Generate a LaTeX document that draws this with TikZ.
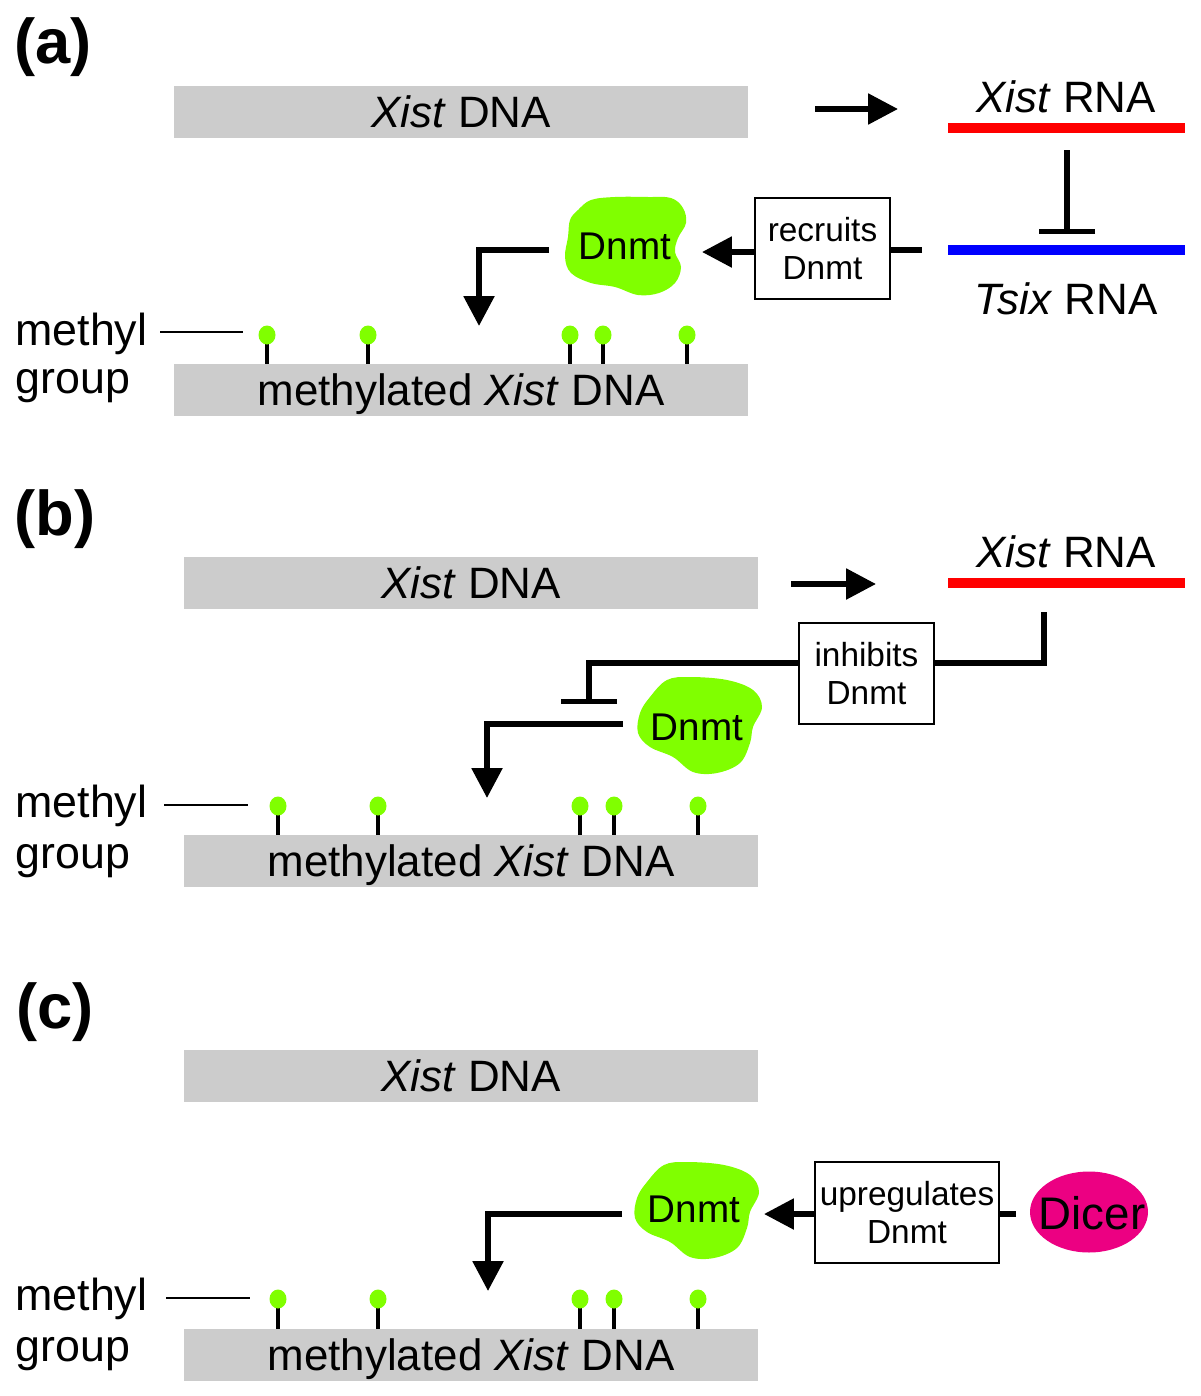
\documentclass[tikz,border=0pt]{standalone}
\usepackage{fontspec}
\setmainfont{Liberation Sans}
\usetikzlibrary{arrows.meta,shapes.geometric}
\definecolor{barGray}{RGB}{204,204,204}
\definecolor{dnmtGreen}{RGB}{128,255,0}
\definecolor{dicerPink}{RGB}{236,0,130}
\definecolor{rnaRed}{RGB}{255,0,0}
\definecolor{rnaBlue}{RGB}{0,0,255}
\newcommand\blobA[2]{\fill[dnmtGreen, shift={(#1,#2)}] plot[smooth cycle, tension=0.6] coordinates {(-49,-36) (-36,-46) (-12,-49) (21,-49) (44,-48) (56,-38) (59,-23) (51,-8) (48,6) (54,21) (48,37) (32,47) (11,49) (-12,41) (-36,37) (-56,27) (-62,11) (-59,-9) (-57,-26)};}
\newcommand\blobB[2]{\fill[dnmtGreen, shift={(#1,#2)}] plot[smooth cycle, tension=0.6] coordinates {(-50,-29) (-33,-46) (-10,-49) (27,-46) (53,-36) (62,-19) (53,1) (50,17) (40,37) (17,47) (-7,46) (-27,31) (-50,21) (-62,7) (-60,-13)};}
\tikzset{
  bar/.style={fill=barGray, minimum width=11.48cm, minimum height=1.04cm, inner sep=0pt,
    font=\fontsize{25}{30}\selectfont, text height=18pt, text depth=0pt},
  lbl/.style={font=\fontsize{25}{30}\selectfont, text height=18pt, text depth=0pt, inner sep=0pt},
  meth/.style={font=\fontsize{25.5}{30}\selectfont, inner sep=0pt, anchor=base west},
  panel/.style={font=\bfseries\fontsize{36}{40}\selectfont, inner sep=0pt},
  boxlbl/.style={draw, line width=1.1pt, font=\fontsize{19}{21.5}\selectfont, align=center,
    inner sep=0pt, minimum width=2.7cm, minimum height=2.02cm},
  blobtxt/.style={font=\fontsize{22}{26}\selectfont, text height=15.8pt, text depth=0pt, inner sep=0pt},
  conn/.style={line width=2.9pt},
  arr/.style={line width=3.2pt, -{Triangle[length=17pt,width=17pt]}},
  inh/.style={line width=2.9pt, -{Bar[width=32pt]}},
  rna/.style={line width=5.8pt},
  mline/.style={line width=1.2pt},
  stem/.style={line width=2pt},
}
\newcommand\lollis[2]{%
  \foreach \lx in {#1} {
    \draw[stem] (\lx,#2+8) -- (\lx,#2+30);
    \fill[dnmtGreen] (\lx,#2) ellipse [x radius=0.17cm, y radius=0.19cm];
  }}
\begin{document}
\begin{tikzpicture}[x=0.02cm, y=-0.02cm]
\useasboundingbox (0,0) rectangle (1200,1396);

% ---------------- panel (a)
\node[panel] (la) at (53,47) {(a)};
\node[bar] (dnaA) at (461,112) {\textit{Xist} DNA};
\coordinate (aA1) at (815,109); \coordinate (aA2) at (898,109);
\draw[arr] (aA1) -- (aA2);
\node[lbl] (xrnaA) at (1066,97) {\textit{Xist} RNA};
\coordinate (redAL) at (948,128); \coordinate (redAR) at (1185,128);
\draw[rna, rnaRed] (redAL) -- (redAR);
\coordinate (blueAL) at (948,250); \coordinate (blueAR) at (1185,250);
\draw[rna, rnaBlue] (blueAL) -- (blueAR);
\node[lbl] (tsixA) at (1066,299) {\textit{Tsix} RNA};
\coordinate (inhA1) at (1067,150); \coordinate (inhA2) at (1067,234);
\draw[inh] (inhA1) -- (inhA2);
\node[boxlbl] (recA) at (822.5,248.5) {recruits\\Dnmt};
\coordinate (tsA) at (922,250);
\draw[conn] (tsA) -- (tsA -| recA.east);
\blobA{627}{246}
\node[blobtxt] (dnmtA) at (625,246) {Dnmt};
\coordinate (recTipA) at (702,252);
\draw[arr] (recA.west |- recTipA) -- (recTipA);
\coordinate (dA0) at (549,250); \coordinate (dA1) at (479,326);
\draw[arr] (dA0) -| (dA1);
\node[meth] (methA) at (15,345) {methyl};
\node[meth] (grpA) at (15,393) {group};
\coordinate (mlA0) at (160,332); \coordinate (mlA1) at (243,332);
\draw[mline] (mlA0) -- (mlA1);
\lollis{267,368,570,603,687}{335}
\node[bar] (mdnaA) at (461,390) {methylated \textit{Xist} DNA};

% ---------------- panel (b)
\node[panel] (lb) at (55,519) {(b)};
\node[bar] (dnaB) at (471,583) {\textit{Xist} DNA};
\coordinate (aB1) at (791,584); \coordinate (aB2) at (876,584);
\draw[arr] (aB1) -- (aB2);
\node[lbl] (xrnaB) at (1066,552) {\textit{Xist} RNA};
\coordinate (redBL) at (948,583); \coordinate (redBR) at (1185,583);
\draw[rna, rnaRed] (redBL) -- (redBR);
\node[boxlbl] (inhB) at (866.5,673.5) {inhibits\\Dnmt};
\coordinate (rB) at (1044,612); \coordinate (lineB) at (934,663);
\draw[conn] (rB) |- (inhB.east |- lineB);
\coordinate (inhBend) at (589,704);
\draw[inh] (inhB.west |- lineB) -| (inhBend);
\blobB{700}{726}
\node[blobtxt] (dnmtB) at (697,727) {Dnmt};
\coordinate (dB0) at (623,724); \coordinate (dB1) at (487,798);
\draw[arr] (dB0) -| (dB1);
\node[meth] (methB) at (15,817) {methyl};
\node[meth] (grpB) at (15,868) {group};
\coordinate (mlB0) at (164,805); \coordinate (mlB1) at (248,805);
\draw[mline] (mlB0) -- (mlB1);
\lollis{278,378,580,614,698}{806}
\node[bar] (mdnaB) at (471,861) {methylated \textit{Xist} DNA};

% ---------------- panel (c)
\node[panel] (lc) at (55,1012) {(c)};
\node[bar] (dnaC) at (471,1076) {\textit{Xist} DNA};
\blobB{697}{1211}
\node[blobtxt] (dnmtC) at (694,1209) {Dnmt};
\node[boxlbl, minimum width=3.68cm] (upC) at (907,1212.5) {upregulates\\Dnmt};
\coordinate (upTipC) at (764,1214);
\draw[arr] (upC.west |- upTipC) -- (upTipC);
\fill[dicerPink] (1089,1212) ellipse [x radius=1.18cm, y radius=0.81cm];
\node[font=\fontsize{26}{30}\selectfont, inner sep=0pt] (dicer) at (1092,1213) {Dicer};
\coordinate (dcC) at (1016,1214);
\draw[conn] (dcC) -- (upC.east |- dcC);
\coordinate (dC0) at (622,1214); \coordinate (dC1) at (488,1291);
\draw[arr] (dC0) -| (dC1);
\node[meth] (methC) at (15,1310) {methyl};
\node[meth] (grpC) at (15,1361) {group};
\coordinate (mlC0) at (166,1298); \coordinate (mlC1) at (250,1298);
\draw[mline] (mlC0) -- (mlC1);
\lollis{278,378,580,614,698}{1299}
\node[bar] (mdnaC) at (471,1355) {methylated \textit{Xist} DNA};
\end{tikzpicture}
\end{document}
